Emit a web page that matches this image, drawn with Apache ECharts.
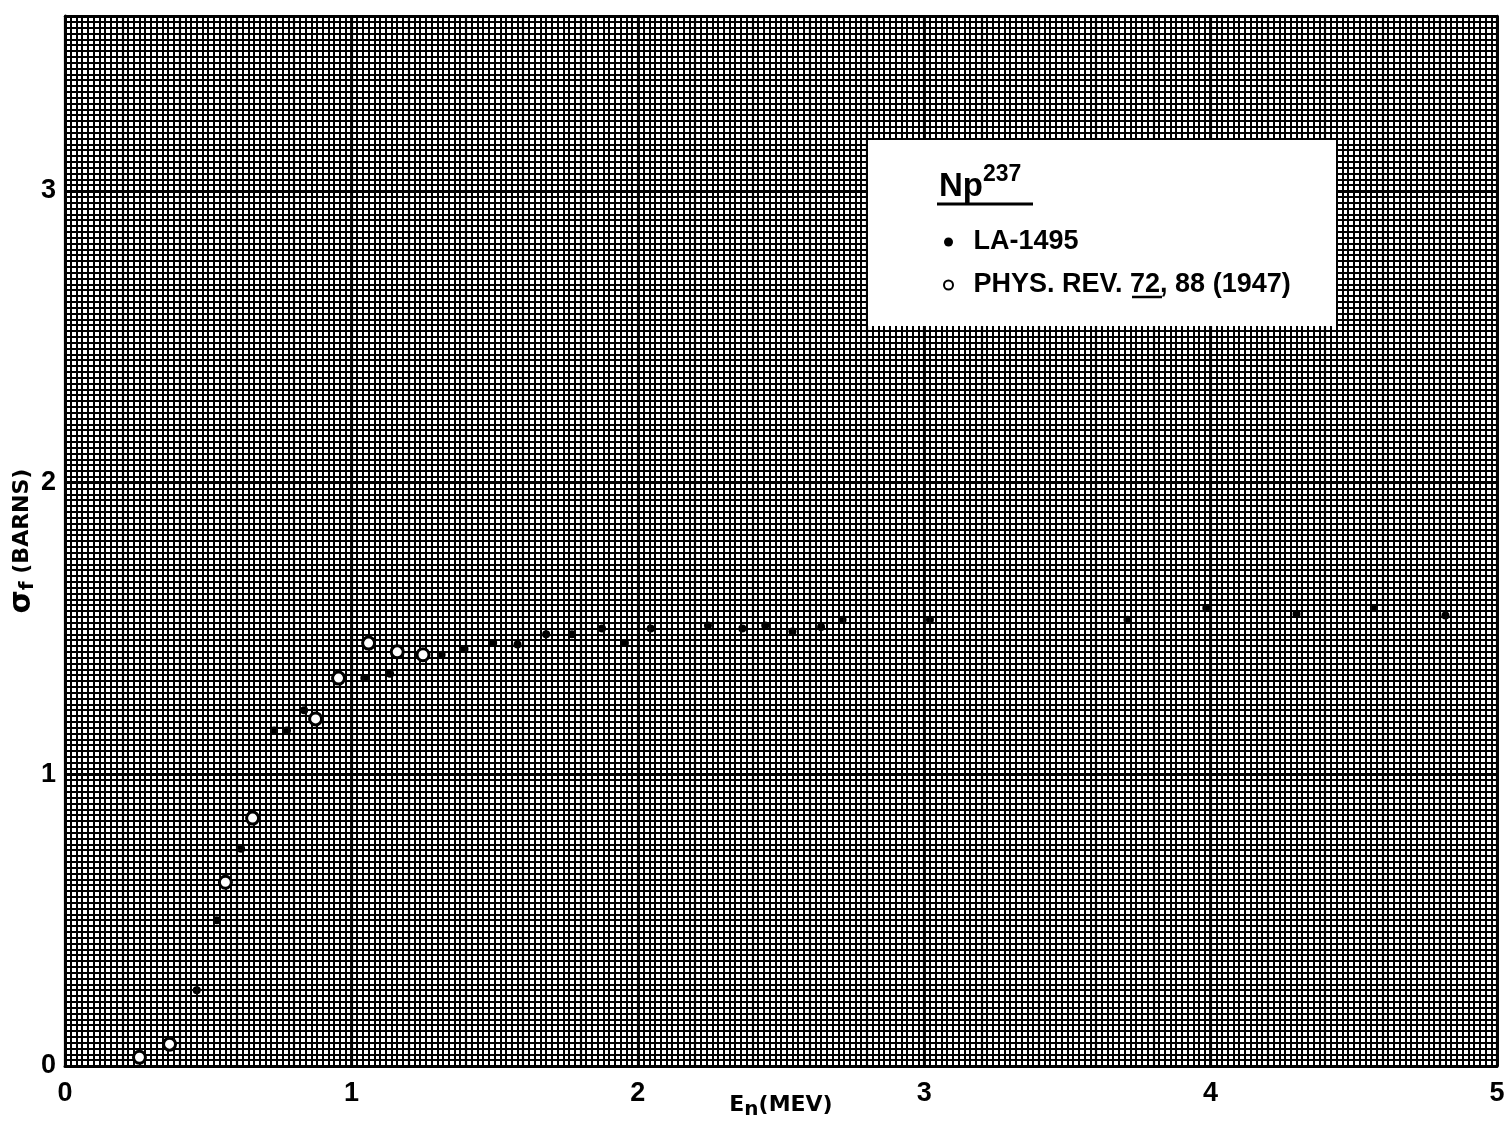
<!DOCTYPE html>
<html>
<head>
<meta charset="utf-8">
<script src="https://cdn.jsdelivr.net/npm/echarts@6/dist/echarts.min.js"></script>
<style>
html,body{margin:0;padding:0;background:#fff;}
#chart{width:1508px;height:1124px;}
</style>
</head>
<body>
<div id="chart"></div>
<script>
// LA-1495 (solid dots)
const laEnergy = [0.46, 0.53, 0.615, 0.73, 0.775, 0.835, 1.045, 1.135, 1.315, 1.395, 1.495, 1.58, 1.68, 1.77, 1.875, 1.955, 2.045, 2.245, 2.365, 2.445, 2.54, 2.64, 2.715, 3.02, 3.71, 3.985, 4.30, 4.57, 4.82];
const laSigma  = [0.26, 0.50, 0.745, 1.15, 1.15, 1.22, 1.33, 1.345, 1.41, 1.43, 1.45, 1.445, 1.48, 1.48, 1.50, 1.45, 1.50, 1.51, 1.50, 1.51, 1.49, 1.505, 1.53, 1.53, 1.53, 1.57, 1.55, 1.57, 1.545];
// PHYS. REV. 72, 88 (1947) (open circles)
const prEnergy = [0.26, 0.365, 0.56, 0.655, 0.875, 0.955, 1.06, 1.16, 1.25];
const prSigma  = [0.03, 0.075, 0.63, 0.85, 1.19, 1.33, 1.45, 1.42, 1.41];
// tick labels
const xTickLabels = ['0', '1', '2', '3', '4', '5'];
const yTickLabels = ['0', '1', '2', '3'];
const seriesNames = ['LA-1495', 'PHYS. REV. 72, 88 (1947)'];

const zip = (a, b) => a.map((v, i) => [v, b[i]]);
const isInt = v => Math.abs(v - Math.round(v)) < 1e-6;
const fmtX = v => isInt(v) && xTickLabels[Math.round(v)] !== undefined ? xTickLabels[Math.round(v)] : '';
const fmtY = v => isInt(v) && yTickLabels[Math.round(v)] !== undefined ? yTickLabels[Math.round(v)] : '';

const tickFont = {fontFamily: 'Liberation Sans', fontWeight: 'bold', fontSize: 27, color: '#000'};
const nameFont = 'DejaVu Sans';

const chart = echarts.init(document.getElementById('chart'), null, {renderer: 'canvas'});
chart.setOption({
  backgroundColor: '#fff',
  animation: false,
  grid: {left: 65, right: 11, top: 16, bottom: 58, outerBoundsMode: 'none', containLabel: false},
  title: {
    text: '{n|Np}{s|237}',
    left: 934, top: 158, z: 100,
    textStyle: {
      rich: {
        n: {fontFamily: 'Liberation Sans', fontWeight: 'bold', fontSize: 33, color: '#000', verticalAlign: 'bottom', lineHeight: 40},
        s: {fontFamily: 'Liberation Sans', fontWeight: 'bold', fontSize: 23, color: '#000', verticalAlign: 'top', lineHeight: 24}
      }
    }
  },
  legend: {
    orient: 'vertical',
    left: 938, top: 223, z: 100,
    itemWidth: 40, itemHeight: 9, itemGap: 15,
    data: seriesNames,
    textStyle: {fontFamily: 'Liberation Sans', fontWeight: 'bold', fontSize: 27, color: '#000', lineHeight: 28}
  },
  xAxis: [
    {
      type: 'value', min: 0, max: 5, interval: 1, position: 'bottom',
      name: '{e|E}{n|n}{e|(MEV)}', nameLocation: 'middle', nameGap: 24, nameMoveOverlap: false,
      nameTextStyle: {rich: {
        e: {fontFamily: nameFont, fontWeight: 'bold', fontSize: 22, color: '#000', lineHeight: 30},
        n: {fontFamily: nameFont, fontWeight: 'bold', fontSize: 20, color: '#000', verticalAlign: 'bottom', lineHeight: 20}
      }},
      axisLine: {show: true, onZero: false, lineStyle: {color: '#000', width: 3}},
      axisTick: {show: false},
      axisLabel: {...tickFont, margin: 14, formatter: fmtX},
      splitLine: {show: true, lineStyle: {color: '#000', width: 2.8}}
    },
    {
      type: 'value', min: 0, max: 5, interval: 0.2, position: 'top',
      axisLine: {show: true, onZero: false, lineStyle: {color: '#000', width: 2.5}},
      axisTick: {show: false}, axisLabel: {show: false},
      splitLine: {show: true, lineStyle: {color: '#000', width: 2.2}},
      minorTick: {show: false, splitNumber: 10},
      minorSplitLine: {show: true, lineStyle: {color: '#000', width: 2}}
    }
  ],
  yAxis: [
    {
      type: 'value', min: 0, max: 3.6, interval: 1, position: 'left',
      name: '{s|σ}{f|f}{b| (BARNS)}', nameLocation: 'middle', nameGap: 27, nameRotate: 90, nameMoveOverlap: false,
      nameTextStyle: {rich: {
        s: {fontFamily: nameFont, fontWeight: 'bold', fontSize: 30, color: '#000', lineHeight: 32},
        f: {fontFamily: nameFont, fontWeight: 'bold', fontSize: 20, color: '#000', verticalAlign: 'bottom', lineHeight: 20},
        b: {fontFamily: nameFont, fontWeight: 'bold', fontSize: 22, color: '#000', lineHeight: 32}
      }},
      axisLine: {show: true, onZero: false, lineStyle: {color: '#000', width: 3}},
      axisTick: {show: false},
      axisLabel: {...tickFont, margin: 9, formatter: fmtY},
      splitLine: {show: true, lineStyle: {color: '#000', width: 2.8}}
    },
    {
      type: 'value', min: 0, max: 3.6, interval: 0.2, position: 'right',
      axisLine: {show: true, onZero: false, lineStyle: {color: '#000', width: 2.5}},
      axisTick: {show: false}, axisLabel: {show: false},
      splitLine: {show: true, lineStyle: {color: '#000', width: 2.2}},
      minorTick: {show: false, splitNumber: 10},
      minorSplitLine: {show: true, lineStyle: {color: '#000', width: 2}}
    }
  ],
  graphic: [
    {type: 'rect', z: 50, shape: {x: 868, y: 140, width: 468, height: 186}, style: {fill: '#fff'}},
    {type: 'line', z: 101, shape: {x1: 937, y1: 204, x2: 1033, y2: 204}, style: {stroke: '#000', lineWidth: 3}},
    {type: 'line', z: 101, shape: {x1: 1132, y1: 297, x2: 1162, y2: 297}, style: {stroke: '#000', lineWidth: 2.5}}
  ],
  series: [
    {
      name: seriesNames[0], type: 'scatter', xAxisIndex: 0, yAxisIndex: 0, z: 10,
      symbol: 'circle', symbolSize: 8,
      itemStyle: {color: '#000', opacity: 1},
      data: zip(laEnergy, laSigma)
    },
    {
      name: seriesNames[1], type: 'scatter', xAxisIndex: 0, yAxisIndex: 0, z: 11,
      symbol: 'circle', symbolSize: 12,
      itemStyle: {color: '#fff', borderColor: '#000', borderWidth: 3, opacity: 1},
      data: zip(prEnergy, prSigma)
    }
  ]
});
</script>
</body>
</html>
